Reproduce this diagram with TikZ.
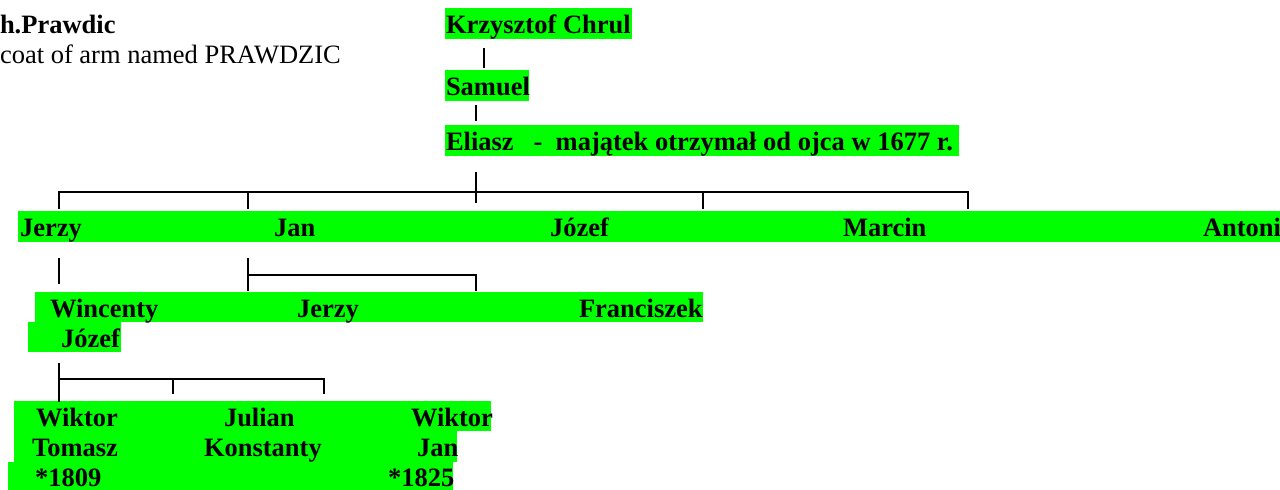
\documentclass[tikz,border=0pt]{standalone}
\usepackage{fontspec}
\setmainfont{Liberation Serif}
\definecolor{hlgreen}{RGB}{0,255,0}
\begin{document}
\begin{tikzpicture}[x=1pt,y=-1pt,
  hl/.style={fill=hlgreen, draw=none, inner sep=0pt, outer sep=0pt, anchor=north west},
  nm/.style={anchor=base west, inner sep=0pt, outer sep=0pt, font=\fontsize{26.5}{30}\selectfont\bfseries},
  plain/.style={anchor=base west, inner sep=0pt, outer sep=0pt, font=\fontsize{26.5}{30}\selectfont},
  ln/.style={line width=1.8pt, black}]
\useasboundingbox (0,0) rectangle (1280,490);

% highlight boxes
\node[hl, minimum width=187pt, minimum height=31pt] (hK) at (445,8) {};
\node[hl, minimum width=84pt, minimum height=31pt] (hS) at (445,70) {};
\node[hl, minimum width=514pt, minimum height=31pt] (hE) at (445,125) {};
\node[hl, minimum width=1262pt, minimum height=31pt] (hR1) at (18,211) {};
\node[hl, minimum width=668pt, minimum height=30pt] (hR2) at (35,292) {};
\node[hl, minimum width=93pt, minimum height=30pt] (hJz) at (28,322) {};
\node[hl, minimum width=477pt, minimum height=30pt] (hBa) at (14,401) {};
\node[hl, minimum width=443pt, minimum height=31pt] (hBb) at (14,431) {};
\node[hl, minimum width=445pt, minimum height=28pt] (hBc) at (8,462) {};

% titles
\node[nm] (t1) at (0,33) {h.Prawdic};
\node[plain] (t2) at (0,63) {coat of arm named PRAWDZIC};

% names
\node[nm] (krz) at (446,33) {Krzysztof Chrul};
\node[nm] (sam) at (446,95) {Samuel};
\node[nm] (eli) at (446,150) {Eliasz\ \ \ -\ \ majątek otrzymał od ojca w 1677 r.};

\node[nm] (jerzy) at (20,236) {Jerzy};
\node[nm] (jan) at (274,236) {Jan};
\node[nm] (jozef) at (550,236) {Józef};
\node[nm] (marcin) at (843,236) {Marcin};
\node[nm] (antoni) at (1203,236) {Antoni};

\node[nm] (winc) at (50,317) {Wincenty};
\node[nm] (jerzy2) at (297,317) {Jerzy};
\node[nm] (franc) at (579,317) {Franciszek};
\node[nm] (jozef2) at (61,347) {Józef};

\node[nm] (wik1) at (36,426) {Wiktor};
\node[nm] (jul) at (224,426) {Julian};
\node[nm] (wik2) at (411,426) {Wiktor};
\node[nm] (tom) at (32,456) {Tomasz};
\node[nm] (kon) at (204,456) {Konstanty};
\node[nm] (jan2) at (417,456) {Jan};
\node[nm] (b1) at (35,486) {*1809};
\node[nm] (b2) at (388,486) {*1825};

% connector coordinates
\coordinate (ks1) at (484,48);  \coordinate (ks2) at (484,68);
\coordinate (se1) at (476,105); \coordinate (se2) at (476,121);
\coordinate (ed1) at (476,172); \coordinate (ed2) at (476,203);
\coordinate (bA) at (59,209);  \coordinate (bAt) at (59,192);
\coordinate (bD) at (968,209); \coordinate (bDt) at (968,192);
\coordinate (bB) at (248,209); \coordinate (bBt) at (248,192);
\coordinate (bC) at (703,209); \coordinate (bCt) at (703,192);
\coordinate (jw1) at (59,258); \coordinate (jw2) at (59,284);
\coordinate (jn1) at (248,258); \coordinate (jn2) at (248,291);
\coordinate (jnh) at (248,275); \coordinate (jnr) at (476,275); \coordinate (jnr2) at (476,291);
\coordinate (jz1) at (59,363); \coordinate (jz2) at (59,402);
\coordinate (jzh) at (59,379); \coordinate (jzr) at (324,379); \coordinate (jzr2) at (324,394);
\coordinate (jzm) at (173,379); \coordinate (jzm2) at (173,394);

\draw[ln] (ks1) -- (ks2);
\draw[ln] (se1) -- (se2);
\draw[ln] (ed1) -- (ed2);
\draw[ln] (bA) -- (bAt) -- (bDt) -- (bD);
\draw[ln] (bBt) -- (bB);
\draw[ln] (bCt) -- (bC);
\draw[ln] (jw1) -- (jw2);
\draw[ln] (jn1) -- (jn2);
\draw[ln] (jnh) -- (jnr) -- (jnr2);
\draw[ln] (jz1) -- (jz2);
\draw[ln] (jzh) -- (jzr) -- (jzr2);
\draw[ln] (jzm) -- (jzm2);
\end{tikzpicture}
\end{document}
